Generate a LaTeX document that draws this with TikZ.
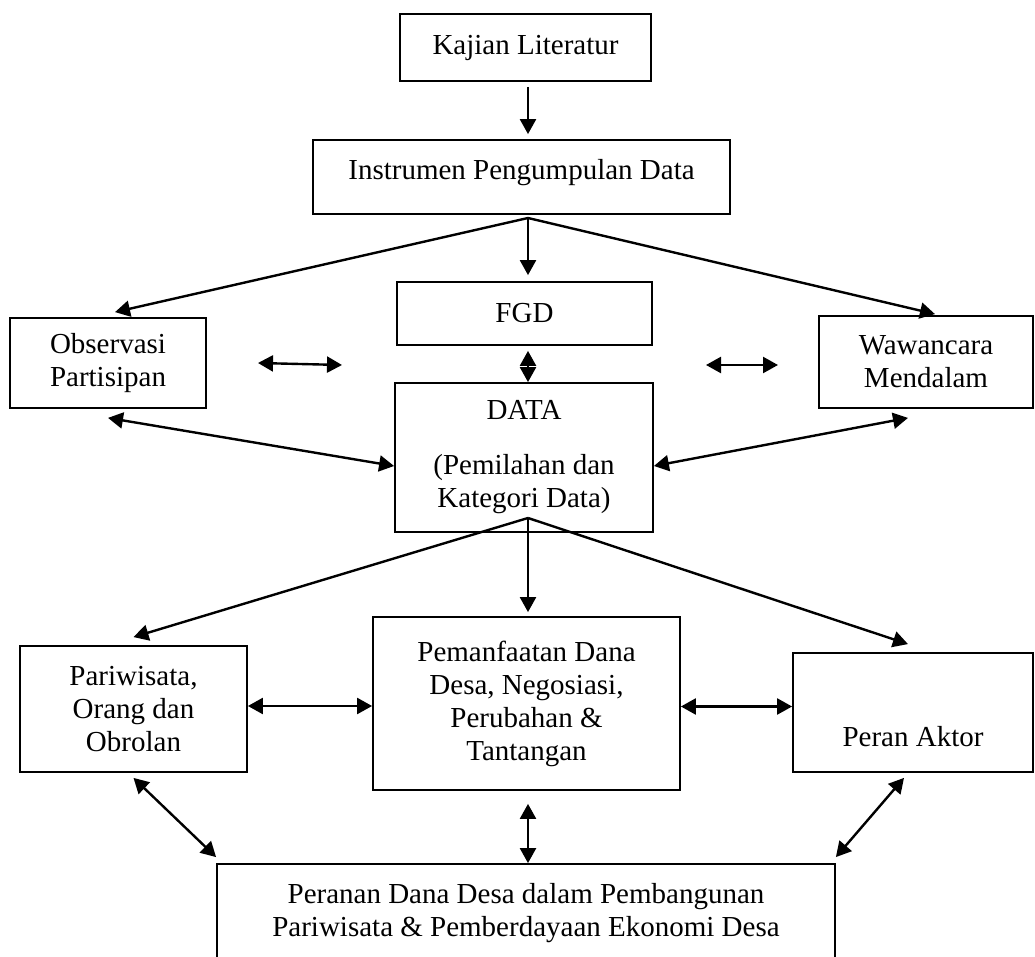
\documentclass[tikz,border=0pt]{standalone}
\usepackage{fontspec}
\setmainfont{Liberation Serif}
\usetikzlibrary{calc,arrows.meta}

\begin{document}
\begin{tikzpicture}[x=0.5pt,y=-0.5pt,
box/.style={draw,line width=0.9pt,inner sep=0,align=center,font=\fontsize{14.5}{16.5}\selectfont},
link/.style={-{Triangle[length=7.5pt,width=8pt]},line width=1.2pt},
twoway/.style={{Triangle[length=7.5pt,width=8pt]}-{Triangle[length=7.5pt,width=8pt]},line width=1.2pt}]
	\useasboundingbox (0,0) rectangle (1035,957);
	\coordinate (mid) at (528,0);
	\coordinate (s1) at (528,218);
	\coordinate (s2) at (528,518);

	\node[box,minimum width=125.5pt,minimum height=33.5pt] at (525.5,47.5) (kaj) {Kajian Literatur};
	\node[box,minimum width=208.5pt,minimum height=37pt,text height=10pt,text depth=7pt] at (521.5,177) (instr) {Instrumen Pengumpulan Data};
	\node[box,minimum width=127.5pt,minimum height=31.5pt] at (524.5,313.5) (fgd) {FGD};
	\node[box,minimum width=98pt,minimum height=45pt] at (108,363) (obs) {Observasi\\Partisipan};
	\node[box,minimum width=107pt,minimum height=46pt] at (926,362) (waw) {Wawancara\\Mendalam};
	\node[box,minimum width=129pt,minimum height=74.5pt] at (524,457.5) (data) {DATA\\[11pt](Pemilahan dan\\Kategori Data)};
	\node[box,minimum width=113.5pt,minimum height=63pt] at (133.5,709) (pari) {Pariwisata,\\Orang dan\\Obrolan};
	\node[box,minimum width=153.5pt,minimum height=86.5pt] at (526.5,703.5) (peman) {Pemanfaatan Dana\\Desa, Negosiasi,\\Perubahan \&\\Tantangan};
	\node[box,minimum width=120pt,minimum height=59.5pt,text height=37.5pt,text depth=3pt] at (913,712.5) (peran) {Peran Aktor};
	\node[box,minimum width=309pt,minimum height=49pt] at (526,913) (akhir) {Peranan Dana Desa dalam Pembangunan\\Pariwisata \& Pemberdayaan Ekonomi Desa};

	%literature
	\draw[link,shorten <=2.5pt,shorten >=2.5pt] (kaj.south -| mid) -- (instr.north -| mid);
	%instruments
	\draw[link] (s1) -- ([shift={(3.5pt,2.5pt)}]obs.north);
	\draw[link,shorten >=3pt] (s1) -- (fgd.north -| mid);
	\draw[link] (s1) -- ([shift={(4.5pt,0.5pt)}]waw.north);
	%loose arrows
	\coordinate (a1) at (258,363);
	\coordinate (a2) at (342,365);
	\coordinate (b1) at (706,365);
	\coordinate (b2) at (778,365);
	\draw[twoway] (a1) -- (a2);
	\draw[twoway] (b1) -- (b2);
	%into data
	\draw[twoway,shorten <=2.5pt] (fgd.south -| mid) -- (data.north -| mid);
	\draw[twoway] ([yshift=-4.5pt]obs.south) -- ([yshift=-4.25pt]data.west);
	\draw[twoway] ([shift={(-9pt,-4.5pt)}]waw.south) -- ([yshift=-4.25pt]data.east);
	%data out
	\draw[link] (s2) -- ([yshift=4pt]pari.north);
	\draw[link,shorten >=2pt] (s2) -- (peman.north -| mid);
	\draw[link] (s2) -- ([shift={(-2.5pt,4pt)}]peran.north);
	%middle row
	\draw[twoway] ([yshift=1.5pt]pari.east) -- ([yshift=1.5pt]pari.east -| peman.west);
	\draw[twoway] ([yshift=-1.5pt]peman.east) -- ([yshift=-1.5pt]peman.east -| peran.west);
	%result
	\draw[twoway] ([yshift=-2.5pt]pari.south) -- ([yshift=3pt]akhir.north west);
	\draw[twoway] ([yshift=-6.5pt]peman.south -| mid) -- (akhir.north -| mid);
	\draw[twoway] ([shift={(-4.5pt,-2.5pt)}]peran.south) -- ([yshift=3pt]akhir.north east);
\end{tikzpicture}
\end{document}
